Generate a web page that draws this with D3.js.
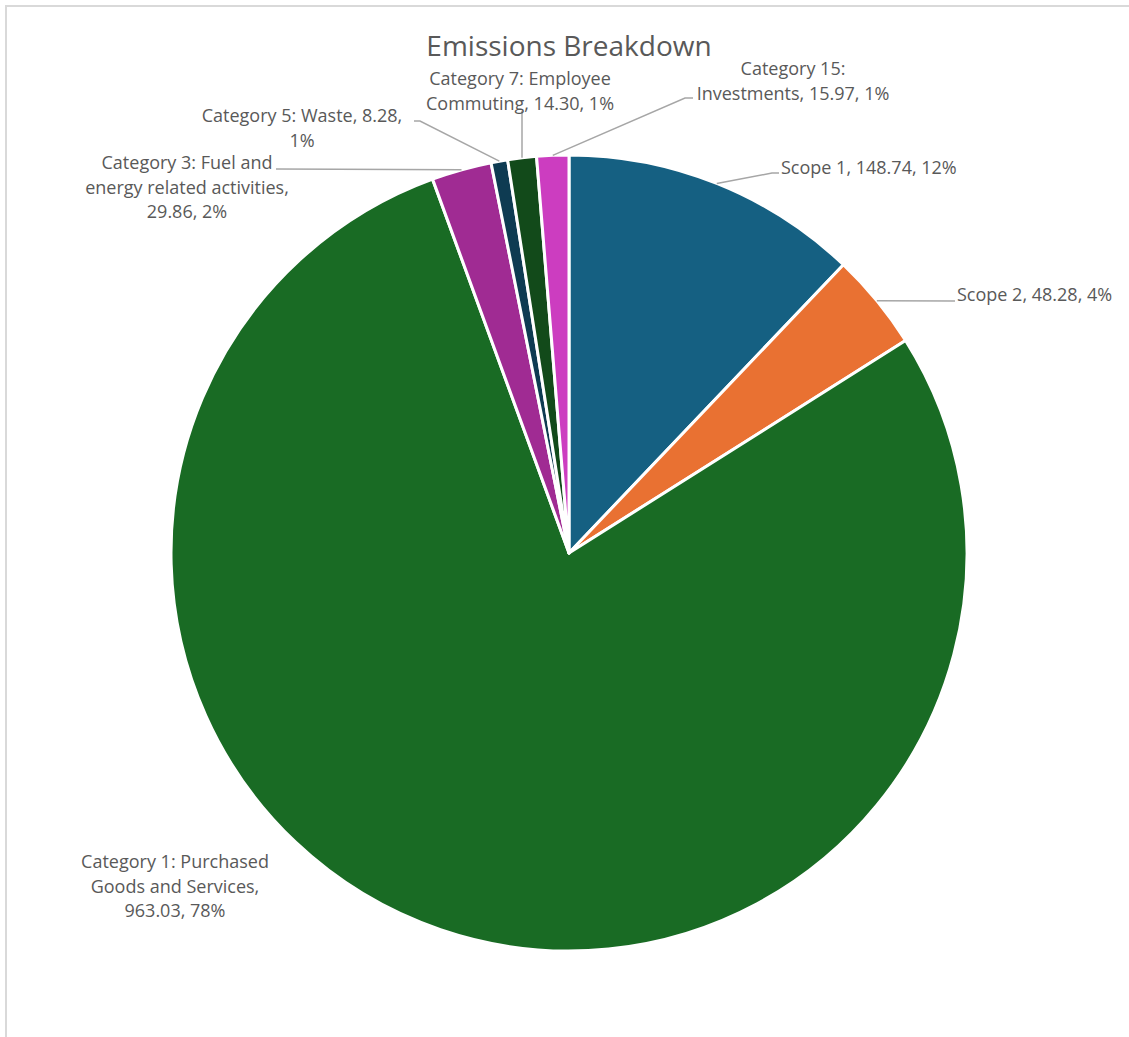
<!DOCTYPE html>
<html>
<head>
<meta charset="utf-8">
<script src="https://cdn.jsdelivr.net/npm/d3@7"></script>
<style>
  body { margin: 0; background: #fff; }
  text { font-family: "Open Sans", sans-serif; fill: #595959; }
</style>
</head>
<body>
<div id="chart"></div>
<script>
// data
var categories = ["Scope 1", "Scope 2", "Category 1: Purchased Goods and Services",
  "Category 3: Fuel and energy related activities", "Category 5: Waste",
  "Category 7: Employee Commuting", "Category 15: Investments"];
var values = [148.74, 48.28, 963.03, 29.86, 8.28, 14.30, 15.97];
var colors = ["#156082", "#E97132", "#196B24", "#A02B93", "#0E3B52", "#124A1A", "#CC3DC0"];
var labelLines = [
  ["Scope 1, 148.74, 12%"],
  ["Scope 2, 48.28, 4%"],
  ["Category 1: Purchased", "Goods and Services,", "963.03, 78%"],
  ["Category 3: Fuel and", "energy related activities,", "29.86, 2%"],
  ["Category 5: Waste, 8.28,", "1%"],
  ["Category 7: Employee", "Commuting, 14.30, 1%"],
  ["Category 15:", "Investments, 15.97, 1%"]
];

var width = 1129, height = 1037;
var cx = 569, cy = 553, r = 398;

// label layout: text anchor x, first baseline y, anchor, leader elbow
var labelPos = [
  { x: 781, y: 174, anchor: "start", elbow: [772, 173], end: [779, 173] },
  { x: 957, y: 301, anchor: "start", elbow: null, end: [955, 301] },
  { x: 175, y: 868, anchor: "middle", elbow: null, end: null },
  { x: 187, y: 169, anchor: "middle", elbow: null, end: [276, 169] },
  { x: 302, y: 122, anchor: "middle", elbow: [420, 121], end: [414, 121] },
  { x: 520, y: 85, anchor: "middle", elbow: null, end: [522, 111] },
  { x: 793, y: 75, anchor: "middle", elbow: [685, 98], end: [693, 98] }
];

var svg = d3.select("#chart").append("svg")
    .attr("width", width)
    .attr("height", height);

// chart frame
svg.append("path")
    .attr("d", "M6," + height + "V6H" + width)
    .attr("fill", "none")
    .attr("stroke", "#d9d9d9")
    .attr("stroke-width", 2);

svg.append("text")
    .attr("x", cx)
    .attr("y", 56)
    .attr("text-anchor", "middle")
    .style("font-size", "28px")
    .text("Emissions Breakdown");

var pie = d3.pie().sort(null).value(function(d) { return d; });
var arcs = pie(values);

var arc = d3.arc().innerRadius(0).outerRadius(r);
var edge = d3.arc().innerRadius(r).outerRadius(r);

var g = svg.append("g")
    .attr("transform", "translate(" + cx + "," + cy + ")");

g.selectAll(".slice")
    .data(arcs)
    .enter().append("path")
    .attr("class", "slice")
    .attr("d", arc)
    .attr("fill", function(d, i) { return colors[i]; })
    .attr("stroke", "#fff")
    .attr("stroke-width", 3)
    .attr("stroke-linejoin", "round");

// leader lines
arcs.forEach(function(d, i) {
  var p = labelPos[i];
  if (!p.end) return;
  var c = edge.centroid(d);
  var pts = [[cx + c[0], cy + c[1]]];
  if (p.elbow) pts.push(p.elbow);
  pts.push(p.end);
  svg.append("path")
      .attr("d", d3.line()(pts))
      .attr("fill", "none")
      .attr("stroke", "#a6a6a6")
      .attr("stroke-width", 1.5);
});

// data labels
labelLines.forEach(function(lines, i) {
  var p = labelPos[i];
  var t = svg.append("text")
      .attr("text-anchor", p.anchor)
      .style("font-size", "18px");
  lines.forEach(function(l, j) {
    t.append("tspan")
        .attr("x", p.x)
        .attr("y", p.y + j * 24.5)
        .text(l);
  });
});
</script>
</body>
</html>
